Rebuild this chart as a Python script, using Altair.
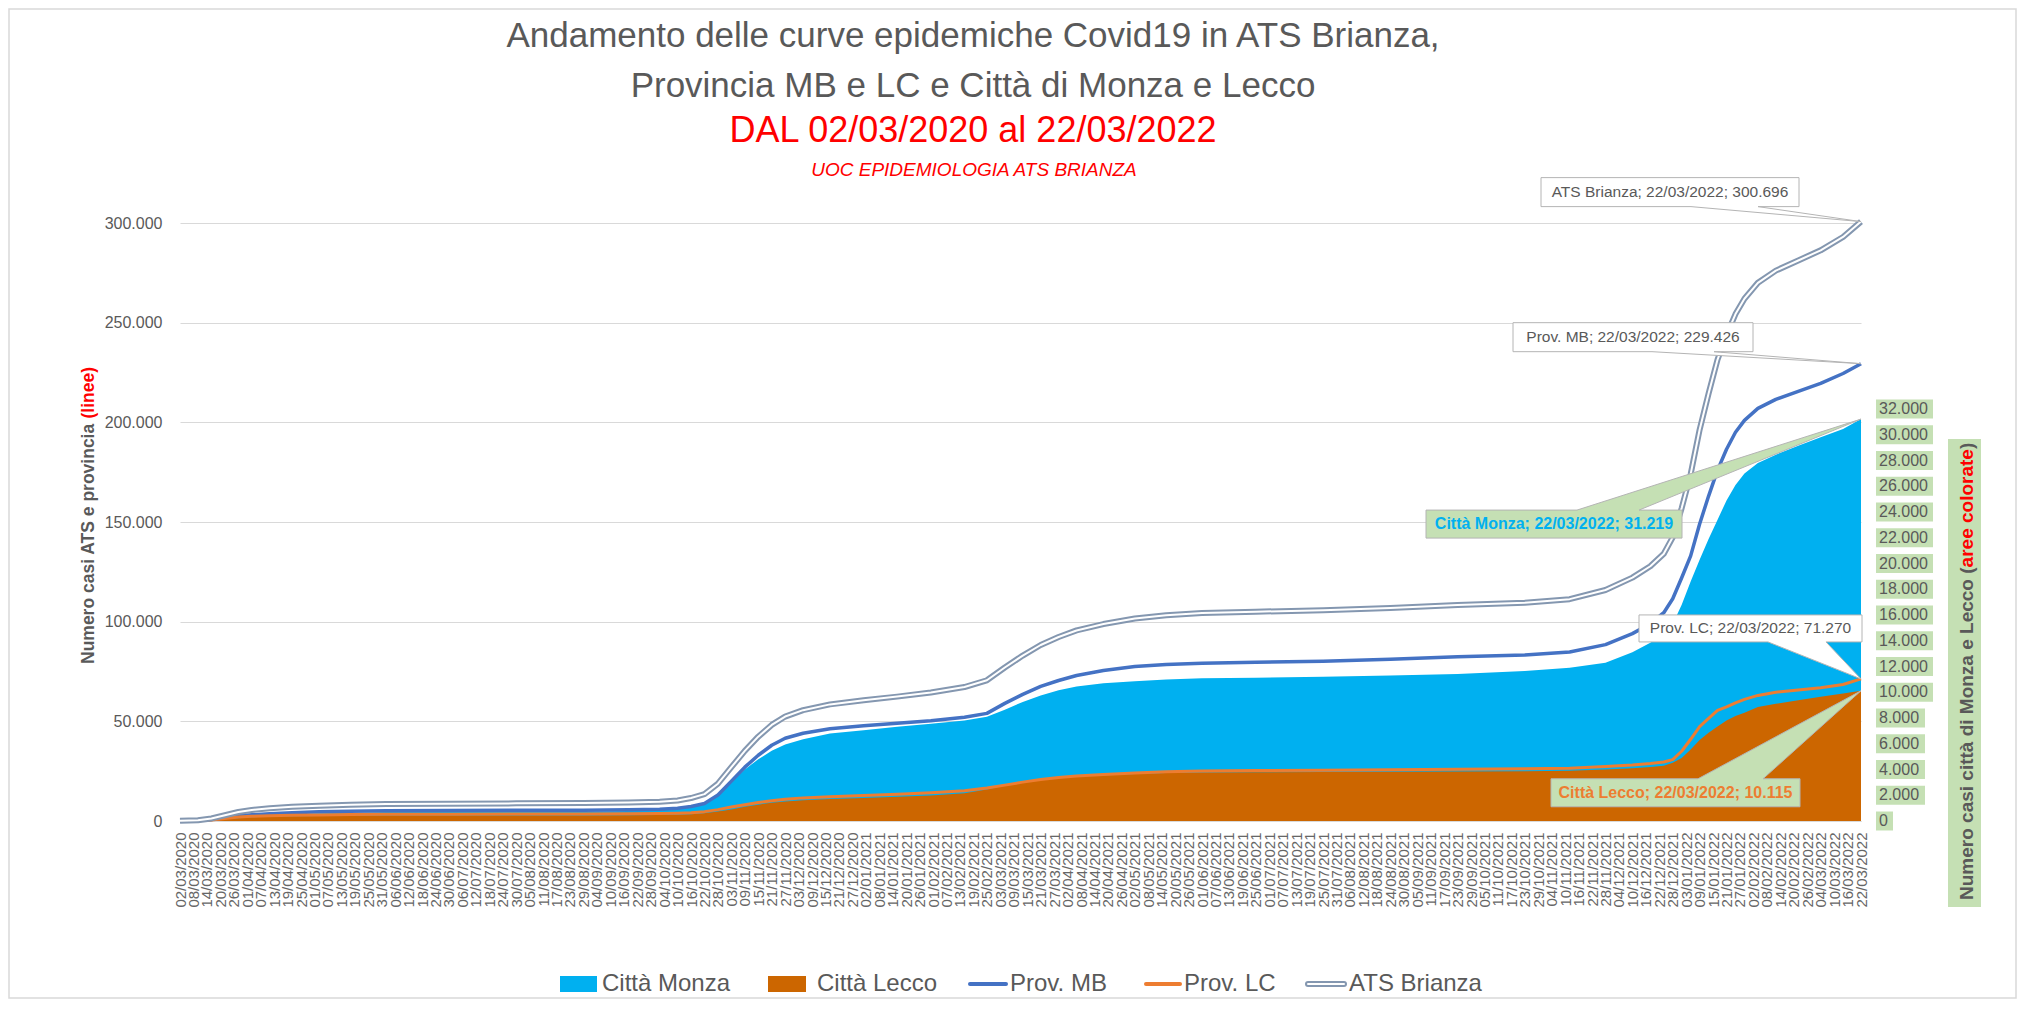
import altair as alt
import pandas as pd

FONT = "Liberation Sans"
GRAY = "#595959"
RED = "#FF0000"

# ---------------- data ----------------
dates = [
    "2020-03-02", "2020-03-10", "2020-03-16", "2020-03-22", "2020-03-28", "2020-04-03",
    "2020-04-11", "2020-04-21", "2020-05-03", "2020-05-17", "2020-06-02", "2020-06-30",
    "2020-07-30", "2020-08-29", "2020-09-18", "2020-10-02", "2020-10-10", "2020-10-16",
    "2020-10-22", "2020-10-28", "2020-11-03", "2020-11-09", "2020-11-15", "2020-11-21",
    "2020-11-27", "2020-12-05", "2020-12-17", "2021-01-01", "2021-01-16", "2021-01-31",
    "2021-02-15", "2021-02-25", "2021-03-05", "2021-03-13", "2021-03-21", "2021-03-29",
    "2021-04-06", "2021-04-18", "2021-05-02", "2021-05-16", "2021-06-01", "2021-06-25",
    "2021-07-25", "2021-08-24", "2021-09-23", "2021-10-23", "2021-11-12", "2021-11-28",
    "2021-12-10", "2021-12-18", "2021-12-24", "2021-12-28", "2022-01-01", "2022-01-05",
    "2022-01-09", "2022-01-13", "2022-01-17", "2022-01-21", "2022-01-25", "2022-01-29",
    "2022-02-04", "2022-02-12", "2022-02-22", "2022-03-04", "2022-03-14", "2022-03-22",
]
ats_brianza = [
    100, 400, 1300, 2900, 4500, 5500, 6400, 7100, 7600, 8100, 8500, 8700,
    8850, 9000, 9300, 9700, 10300, 11500, 13500, 18700, 27000, 35200, 42300, 48200,
    52400, 55600, 58500, 60600, 62400, 64500, 67200, 70600, 77000, 83000, 88300, 92300,
    95600, 98800, 101600, 103200, 104300, 105000, 105700, 106900, 108300, 109500, 111300, 115900,
    122100, 127800, 134100, 142300, 157000, 174000, 196300, 214500, 231500, 243800, 254300, 262000,
    270000, 276100, 281200, 286300, 293000, 300696,
]
prov_mb = [
    50, 300, 800, 1700, 2500, 3100, 3700, 4200, 4600, 4900, 5100, 5250,
    5350, 5450, 5650, 5950, 6400, 7300, 8800, 13000, 20000, 27000, 33000, 38000,
    41500, 44000, 46300, 47800, 49000, 50300, 52000, 54000, 59000, 63500, 67500, 70500,
    73000, 75500, 77500, 78500, 79200, 79700, 80200, 81200, 82400, 83300, 84800, 88500,
    94000, 99000, 104500, 111500, 122000, 133000, 149000, 163000, 176000, 186500, 195000, 201000,
    207000, 211500, 215500, 219500, 224500, 229426,
]
prov_lc = [
    30, 100, 500, 1200, 2000, 2350, 2650, 2850, 3000, 3200, 3350, 3420,
    3460, 3500, 3600, 3750, 3900, 4150, 4700, 5700, 7000, 8200, 9300, 10200,
    10900, 11600, 12200, 12800, 13400, 14200, 15200, 16600, 18000, 19500, 20800, 21800,
    22600, 23300, 24100, 24700, 25100, 25300, 25500, 25700, 25900, 26200, 26500, 27400,
    28100, 28800, 29600, 30800, 35000, 41000, 47300, 51500, 55500, 57300, 59300, 61000,
    63000, 64600, 65700, 66800, 68500, 71270,
]
citta_monza = [
    0, 10, 60, 150, 260, 360, 460, 540, 600, 650, 690, 710,
    720, 740, 780, 840, 920, 1050, 1350, 2000, 3000, 4000, 4800, 5450,
    5950, 6350, 6800, 7050, 7330, 7560, 7800, 8100, 8650, 9250, 9750, 10150,
    10450, 10700, 10850, 11000, 11080, 11130, 11200, 11300, 11420, 11650, 11900, 12300,
    13100, 13850, 14550, 15300, 16800, 18600, 20300, 21900, 23400, 24900, 26100, 27000,
    27800, 28450, 29150, 29800, 30450, 31219,
]
citta_lecco = [
    0, 10, 50, 130, 220, 290, 340, 370, 390, 410, 420, 425,
    430, 435, 450, 470, 490, 530, 610, 740, 900, 1100, 1270, 1420,
    1520, 1610, 1700, 1790, 1880, 1990, 2150, 2450, 2750, 3000, 3200, 3350,
    3450, 3550, 3650, 3720, 3760, 3780, 3800, 3820, 3840, 3870, 3900, 4000,
    4100, 4200, 4300, 4530, 4900, 5550, 6290, 6850, 7350, 7800, 8150, 8400,
    8850, 9100, 9380, 9650, 9900, 10115,
]

left_ticks = [0, 50000, 100000, 150000, 200000, 250000, 300000]
right_tick_values = [0, 2000, 4000, 6000, 8000, 10000, 12000, 14000, 16000,
                     18000, 20000, 22000, 24000, 26000, 28000, 30000, 32000]
right_tick_labels = ["0", "2.000", "4.000", "6.000", "8.000", "10.000", "12.000", "14.000",
                     "16.000", "18.000", "20.000", "22.000", "24.000", "26.000", "28.000",
                     "30.000", "32.000"]

# x tick labels: every 6 days from the first to the last date
tick_dates = pd.date_range(dates[0], dates[-1], freq="6D")
x_ticks = [int(t.value // 10**6) for t in tick_dates]

df = pd.DataFrame({
    "date": dates, "ats": ats_brianza, "mb": prov_mb, "lc": prov_lc,
    "monza": citta_monza, "lecco": citta_lecco,
})
last = df.iloc[[-1]].reset_index(drop=True)
one = pd.DataFrame({"k": [0]})

W, H = 1681, 598
LEFT = alt.Scale(domain=[0, 300000], nice=False, zero=True)
RIGHT = alt.Scale(domain=[0, 46450], nice=False, zero=True)

xaxis = alt.Axis(
    values=x_ticks, labelExpr="utcFormat(datum.value, '%d/%m/%Y')", labelAngle=270,
    labelFont=FONT, labelFontSize=15, labelColor="#666666", labelPadding=11,
    labelOverlap=False, labelFlush=False, ticks=False, tickSize=0, grid=False,
    domainColor="#D9D9D9", domainWidth=1, title=None,
)
X = alt.X("date:T", scale=alt.Scale(type="utc", domain=[x_ticks[0], x_ticks[-1]]), axis=xaxis)

yaxis_left = alt.Axis(
    values=left_ticks, labelExpr="replace(format(datum.value, ','), ',', '.')",
    labelFont=FONT, labelFontSize=16, labelColor=GRAY, labelPadding=18,
    ticks=False, tickSize=0, domain=False, grid=True, gridColor="#D9D9D9", gridWidth=1,
    title=None,
)

base = alt.Chart(df)

area_monza = base.mark_area(color="#00B0F0", opacity=1, interpolate="linear").encode(
    x=X, y=alt.Y("monza:Q", scale=RIGHT, axis=None))
area_lecco = base.mark_area(color="#CC6600", opacity=1, interpolate="linear").encode(
    x=X, y=alt.Y("lecco:Q", scale=RIGHT, axis=None))
line_mb = base.mark_line(color="#4472C4", strokeWidth=3.5, strokeJoin="round").encode(
    x=X, y=alt.Y("mb:Q", scale=LEFT, axis=None))
line_lc = base.mark_line(color="#ED7D31", strokeWidth=3, strokeJoin="round").encode(
    x=X, y=alt.Y("lc:Q", scale=LEFT, axis=None))
line_ats_out = base.mark_line(color="#8497B0", strokeWidth=6, strokeJoin="round").encode(
    x=X, y=alt.Y("ats:Q", scale=LEFT, axis=yaxis_left))
line_ats_in = base.mark_line(color="white", strokeWidth=2, strokeJoin="round").encode(
    x=X, y=alt.Y("ats:Q", scale=LEFT, axis=None))


def txt(x, y, s, size, color=GRAY, weight="normal", style="normal", align="center",
        baseline="alphabetic", angle=0):
    kw = dict(text=s, align=align, baseline=baseline, fontSize=size, font=FONT,
              color=color, fontWeight=weight, fontStyle=style)
    if angle:
        kw["angle"] = angle
    return alt.Chart(one).mark_text(**kw).encode(x=alt.value(x), y=alt.value(y))


def box(x0, x1, y0, y1, fill, stroke=None):
    kw = dict(fill=fill)
    if stroke:
        kw.update(stroke=stroke, strokeWidth=1)
    return alt.Chart(one).mark_rect(**kw).encode(
        x=alt.value(x0), x2=alt.value(x1), y=alt.value(y0), y2=alt.value(y1))


def rule(x0, x1, y, color, width):
    return alt.Chart(one).mark_rule(color=color, strokeWidth=width, strokeCap="round").encode(
        x=alt.value(x0), x2=alt.value(x1), y=alt.value(y))


def callout(col, scale, path, fill, label, dx, dy, tcolor, bold):
    b = alt.Chart(last).encode(x=X, y=alt.Y(f"{col}:Q", scale=scale, axis=None))
    shp = b.mark_point(shape=path, size=4, filled=True, fill=fill, stroke="#B4B4B4",
                       strokeWidth=1, opacity=1)
    lab = b.mark_text(text=label, dx=dx, dy=dy, align="center", baseline="middle",
                      font=FONT, fontSize=16 if bold else 15.5, color=tcolor,
                      fontWeight="bold" if bold else "normal")
    return [shp, lab]


callouts = []
callouts += callout("ats", LEFT, "M-320,-44L-62,-44L-62,-15L-103,-15L0,0L-170,-15L-320,-15Z",
                    "white", "ATS Brianza; 22/03/2022; 300.696", -191, -29.5, GRAY, False)
callouts += callout("mb", LEFT, "M-348,-41L-108,-41L-108,-12L-147,-12L0,0L-209,-12L-348,-12Z",
                    "white", "Prov. MB; 22/03/2022; 229.426", -228, -26.5, GRAY, False)
callouts += callout("lc", LEFT, "M-222,-64L1,-64L1,-37L-35,-37L0,0L-93,-37L-222,-37Z",
                    "white", "Prov. LC; 22/03/2022; 71.270", -110.5, -50.5, GRAY, False)
callouts += callout("monza", RIGHT, "M-435,91L-284,91L0,0L-222,91L-179,91L-179,119L-435,119Z",
                    "#C5E0B4", "Città Monza; 22/03/2022; 31.219", -307, 105, "#00B0F0", True)
callouts += callout("lecco", RIGHT, "M-310,88L-163,88L0,0L-98,88L-61,88L-61,116L-310,116Z",
                    "#C5E0B4", "Città Lecco; 22/03/2022; 10.115", -185.5, 102, "#ED7D31", True)

# right axis: labels on green boxes
rt = pd.DataFrame({"v": right_tick_values, "lab": right_tick_labels})
rt["n"] = rt["lab"].str.len()
right_layers = []
for n, w in [(1, 17), (5, 49), (6, 57)]:
    sub = rt[rt["n"] == n]
    path = f"M0,-9.5L{w},-9.5L{w},9.5L0,9.5Z"
    right_layers.append(
        alt.Chart(sub).mark_point(shape=path, size=4, filled=True, fill="#C5E0B4",
                                  strokeWidth=0, opacity=1).encode(
            x=alt.value(1696), y=alt.Y("v:Q", scale=RIGHT, axis=None)))
right_layers.append(
    alt.Chart(rt).mark_text(align="left", baseline="middle", font=FONT, fontSize=16,
                            color=GRAY).encode(
        x=alt.value(1699), y=alt.Y("v:Q", scale=RIGHT, axis=None), text="lab:N"))

annotations = [
    # titles
    txt(793, -176, "Andamento delle curve epidemiche Covid19 in ATS Brianza,", 35),
    txt(793, -126, "Provincia MB e LC e Città di Monza e Lecco", 35),
    txt(793, -81, "DAL 02/03/2020 al 22/03/2022", 36, color=RED),
    txt(794, -47, "UOC EPIDEMIOLOGIA ATS BRIANZA", 19, color=RED, style="italic"),
    # left axis title
    txt(-91.5, 441, "Numero casi ATS e  provincia", 17.5, weight="bold", align="left",
        baseline="middle", angle=270),
    txt(-91.5, 144, "(linee)", 17.5, color=RED, weight="bold", align="right",
        baseline="middle", angle=270),
    # right axis title
    box(1768, 1801, 216, 684, "#C5E0B4"),
    txt(1786.5, 677, "Numero casi città di Monza e Lecco (", 19, weight="bold",
        align="left", baseline="middle", angle=270),
    txt(1786.5, 344.4, "aree colorate", 19, color=RED, weight="bold",
        align="left", baseline="middle", angle=270),
    txt(1786.5, 226.1, ")", 19, weight="bold", align="left", baseline="middle", angle=270),
    # legend
    box(380, 417, 753, 769, "#00B0F0"),
    txt(422, 761, "Città Monza", 24, align="left", baseline="middle"),
    box(588, 626, 753, 769, "#CC6600"),
    txt(637, 761, "Città Lecco", 24, align="left", baseline="middle"),
    rule(790, 826, 761, "#4472C4", 4),
    txt(830, 761, "Prov. MB", 24, align="left", baseline="middle"),
    rule(966, 1000, 761, "#ED7D31", 4),
    txt(1004, 761, "Prov. LC", 24, align="left", baseline="middle"),
    rule(1128, 1164, 761, "#8497B0", 6),
    rule(1128, 1164, 761, "white", 2),
    txt(1169, 761, "ATS Brianza", 24, align="left", baseline="middle"),
]

border = alt.Chart(one).mark_rect(fill="white", fillOpacity=0, stroke="#D9D9D9",
                                  strokeWidth=1.5).encode(
    x=alt.value(-171), x2=alt.value(1836), y=alt.value(-214), y2=alt.value(775))

layers = ([border, area_monza, area_lecco, line_mb, line_lc, line_ats_out, line_ats_in]
          + callouts + right_layers + annotations)

chart = alt.layer(*layers).resolve_scale(y="independent").properties(
    width=W, height=H,
    autosize=alt.AutoSizeParams(type="none"),
    padding={"left": 172, "top": 215, "right": 157, "bottom": 179},
    background="white",
).configure_view(strokeWidth=0)

chart.save("out.html", embed_options={"renderer": "svg", "actions": False})
